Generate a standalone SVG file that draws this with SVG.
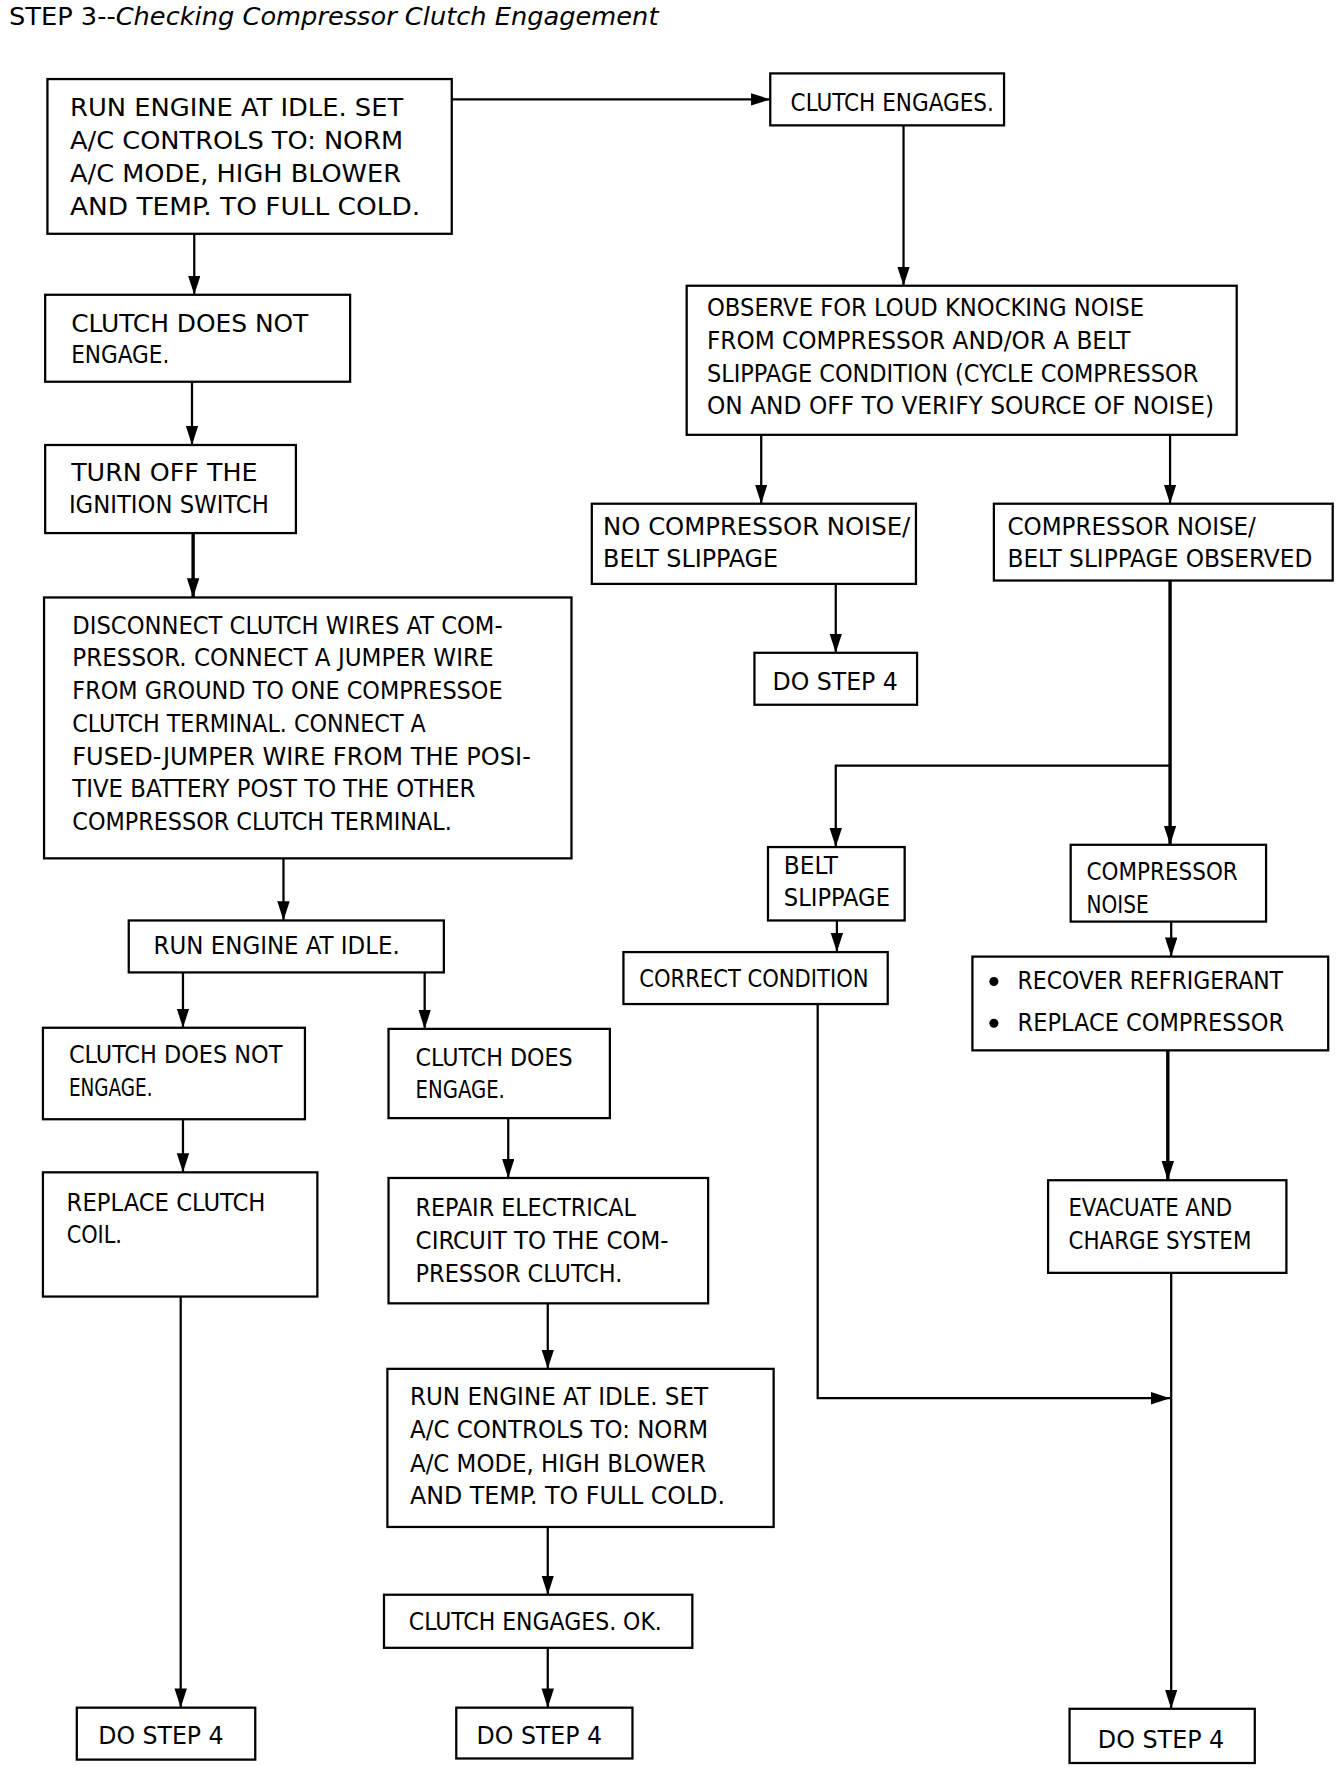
<svg xmlns="http://www.w3.org/2000/svg" width="1344" height="1772" viewBox="0 0 1344 1772">
<style>
.b{fill:#fff;stroke:#000;stroke-width:2}
.t{font-family:"DejaVu Sans Condensed","Liberation Sans",Arial,sans-serif;font-size:22px;fill:#000}
.c{fill:none;stroke:#000;stroke-width:2}
.k{stroke-width:3}
</style>
<defs>
<marker id="ah" markerUnits="userSpaceOnUse" markerWidth="18" markerHeight="12" refX="17" refY="5.5" orient="auto">
<path d="M0,0 L17,5.5 L0,11 z" fill="#000"/>
</marker>
</defs>
<rect width="1344" height="1772" fill="#fff"/>
<g transform="scale(1.12941)">
<text class="t" x="8" y="22" font-size="21" textLength="575" lengthAdjust="spacingAndGlyphs">STEP 3--<tspan font-style="italic">Checking Compressor Clutch Engagement</tspan></text>

<g id="connectors">
<path class="c" d="M400,88 H682" marker-end="url(#ah)"/>
<path class="c" d="M800,111 V253" marker-end="url(#ah)"/>
<path class="c" d="M674,385 V446" marker-end="url(#ah)"/>
<path class="c" d="M1036,385 V446" marker-end="url(#ah)"/>
<path class="c" d="M740,517 V578" marker-end="url(#ah)"/>
<path class="c k" d="M1036,514 V748" marker-end="url(#ah)"/>
<path class="c" d="M1036,678 H740 V750" marker-end="url(#ah)"/>
<path class="c" d="M741,815 V843" marker-end="url(#ah)"/>
<path class="c" d="M724,889 V1238 H1036" marker-end="url(#ah)"/>
<path class="c" d="M1037,816 V847" marker-end="url(#ah)"/>
<path class="c k" d="M1034,930 V1045" marker-end="url(#ah)"/>
<path class="c" d="M1037,1127 V1513" marker-end="url(#ah)"/>
<path class="c" d="M172,207 V261" marker-end="url(#ah)"/>
<path class="c" d="M170,338 V394" marker-end="url(#ah)"/>
<path class="c k" d="M171,472 V529" marker-end="url(#ah)"/>
<path class="c" d="M251,760 V815" marker-end="url(#ah)"/>
<path class="c" d="M162,861 V910" marker-end="url(#ah)"/>
<path class="c" d="M376,861 V911" marker-end="url(#ah)"/>
<path class="c" d="M162,991 V1038" marker-end="url(#ah)"/>
<path class="c" d="M450,990 V1043" marker-end="url(#ah)"/>
<path class="c" d="M160,1148 V1512" marker-end="url(#ah)"/>
<path class="c" d="M485,1154 V1212" marker-end="url(#ah)"/>
<path class="c" d="M485,1352 V1412" marker-end="url(#ah)"/>
<path class="c" d="M485,1459 V1512" marker-end="url(#ah)"/>
</g>

<g id="nodeA"><rect class="b" x="42" y="70" width="358" height="137"/>
<text class="t" x="62" y="103" textLength="295" lengthAdjust="spacingAndGlyphs">RUN ENGINE AT IDLE. SET</text>
<text class="t" x="62" y="132" textLength="295" lengthAdjust="spacingAndGlyphs">A/C CONTROLS TO: NORM</text>
<text class="t" x="62" y="161" textLength="293" lengthAdjust="spacingAndGlyphs">A/C MODE, HIGH BLOWER</text>
<text class="t" x="62" y="190" textLength="310" lengthAdjust="spacingAndGlyphs">AND TEMP. TO FULL COLD.</text></g>

<g id="nodeB"><rect class="b" x="682" y="65" width="207" height="46"/>
<text class="t" x="700" y="98" textLength="180" lengthAdjust="spacingAndGlyphs">CLUTCH ENGAGES.</text></g>

<g id="nodeC"><rect class="b" x="608" y="253" width="487" height="132"/>
<text class="t" x="626" y="280" textLength="387" lengthAdjust="spacingAndGlyphs">OBSERVE FOR LOUD KNOCKING NOISE</text>
<text class="t" x="626" y="309" textLength="375" lengthAdjust="spacingAndGlyphs">FROM COMPRESSOR AND/OR A BELT</text>
<text class="t" x="626" y="338" textLength="435" lengthAdjust="spacingAndGlyphs">SLIPPAGE CONDITION (CYCLE COMPRESSOR</text>
<text class="t" x="626" y="367" textLength="449" lengthAdjust="spacingAndGlyphs">ON AND OFF TO VERIFY SOURCE OF NOISE)</text></g>

<g id="nodeD"><rect class="b" x="524" y="446" width="287" height="71"/>
<text class="t" x="534" y="474" textLength="272" lengthAdjust="spacingAndGlyphs">NO COMPRESSOR NOISE/</text>
<text class="t" x="534" y="502" textLength="155" lengthAdjust="spacingAndGlyphs">BELT SLIPPAGE</text></g>

<g id="nodeF"><rect class="b" x="668" y="578" width="144" height="46"/>
<text class="t" x="684" y="611" textLength="111" lengthAdjust="spacingAndGlyphs">DO STEP 4</text></g>

<g id="nodeE"><rect class="b" x="880" y="446" width="300" height="68"/>
<text class="t" x="892" y="474" textLength="220" lengthAdjust="spacingAndGlyphs">COMPRESSOR NOISE/</text>
<text class="t" x="892" y="502" textLength="270" lengthAdjust="spacingAndGlyphs">BELT SLIPPAGE OBSERVED</text></g>

<g id="nodeG"><rect class="b" x="680" y="750" width="121" height="65"/>
<text class="t" x="694" y="774" textLength="48" lengthAdjust="spacingAndGlyphs">BELT</text>
<text class="t" x="694" y="802" textLength="94" lengthAdjust="spacingAndGlyphs">SLIPPAGE</text></g>

<g id="nodeI"><rect class="b" x="552" y="843" width="234" height="46"/>
<text class="t" x="566" y="874" textLength="203" lengthAdjust="spacingAndGlyphs">CORRECT CONDITION</text></g>

<g id="nodeH"><rect class="b" x="948" y="748" width="173" height="68"/>
<text class="t" x="962" y="779" textLength="134" lengthAdjust="spacingAndGlyphs">COMPRESSOR</text>
<text class="t" x="962" y="808" textLength="55" lengthAdjust="spacingAndGlyphs">NOISE</text></g>

<g id="nodeJ"><rect class="b" x="861" y="847" width="315" height="83"/>
<circle cx="880" cy="869" r="4"/><circle cx="880" cy="906" r="4"/>
<text class="t" x="901" y="876" textLength="235" lengthAdjust="spacingAndGlyphs">RECOVER REFRIGERANT</text>
<text class="t" x="901" y="913" textLength="236" lengthAdjust="spacingAndGlyphs">REPLACE COMPRESSOR</text></g>

<g id="nodeK"><rect class="b" x="928" y="1045" width="211" height="82"/>
<text class="t" x="946" y="1077" textLength="145" lengthAdjust="spacingAndGlyphs">EVACUATE AND</text>
<text class="t" x="946" y="1106" textLength="162" lengthAdjust="spacingAndGlyphs">CHARGE SYSTEM</text></g>

<g id="nodeL"><rect class="b" x="947" y="1513" width="164" height="48"/>
<text class="t" x="972" y="1548" textLength="112" lengthAdjust="spacingAndGlyphs">DO STEP 4</text></g>

<g id="nodeM"><rect class="b" x="40" y="261" width="270" height="77"/>
<text class="t" x="63" y="294" textLength="210" lengthAdjust="spacingAndGlyphs">CLUTCH DOES NOT</text>
<text class="t" x="63" y="321" textLength="87" lengthAdjust="spacingAndGlyphs">ENGAGE.</text></g>

<g id="nodeN"><rect class="b" x="40" y="394" width="222" height="78"/>
<text class="t" x="63" y="426" textLength="165" lengthAdjust="spacingAndGlyphs">TURN OFF THE</text>
<text class="t" x="61" y="454" textLength="177" lengthAdjust="spacingAndGlyphs">IGNITION SWITCH</text></g>

<g id="nodeO"><rect class="b" x="39" y="529" width="467" height="231"/>
<text class="t" x="64" y="561" textLength="381" lengthAdjust="spacingAndGlyphs">DISCONNECT CLUTCH WIRES AT COM-</text>
<text class="t" x="64" y="590" textLength="373" lengthAdjust="spacingAndGlyphs">PRESSOR. CONNECT A JUMPER WIRE</text>
<text class="t" x="64" y="619" textLength="381" lengthAdjust="spacingAndGlyphs">FROM GROUND TO ONE COMPRESSOE</text>
<text class="t" x="64" y="648" textLength="313" lengthAdjust="spacingAndGlyphs">CLUTCH TERMINAL. CONNECT A</text>
<text class="t" x="64" y="677" textLength="406" lengthAdjust="spacingAndGlyphs">FUSED-JUMPER WIRE FROM THE POSI-</text>
<text class="t" x="64" y="706" textLength="357" lengthAdjust="spacingAndGlyphs">TIVE BATTERY POST TO THE OTHER</text>
<text class="t" x="64" y="735" textLength="336" lengthAdjust="spacingAndGlyphs">COMPRESSOR CLUTCH TERMINAL.</text></g>

<g id="nodeP"><rect class="b" x="114" y="815" width="279" height="46"/>
<text class="t" x="136" y="845" textLength="218" lengthAdjust="spacingAndGlyphs">RUN ENGINE AT IDLE.</text></g>

<g id="nodeQ"><rect class="b" x="38" y="910" width="232" height="81"/>
<text class="t" x="61" y="941" textLength="189" lengthAdjust="spacingAndGlyphs">CLUTCH DOES NOT</text>
<text class="t" x="61" y="970" textLength="74" lengthAdjust="spacingAndGlyphs">ENGAGE.</text></g>

<g id="nodeR"><rect class="b" x="344" y="911" width="196" height="79"/>
<text class="t" x="368" y="944" textLength="139" lengthAdjust="spacingAndGlyphs">CLUTCH DOES</text>
<text class="t" x="368" y="972" textLength="79" lengthAdjust="spacingAndGlyphs">ENGAGE.</text></g>

<g id="nodeS"><rect class="b" x="38" y="1038" width="243" height="110"/>
<text class="t" x="59" y="1072" textLength="176" lengthAdjust="spacingAndGlyphs">REPLACE CLUTCH</text>
<text class="t" x="59" y="1101" textLength="49" lengthAdjust="spacingAndGlyphs">COIL.</text></g>

<g id="nodeT"><rect class="b" x="344" y="1043" width="283" height="111"/>
<text class="t" x="368" y="1077" textLength="195" lengthAdjust="spacingAndGlyphs">REPAIR ELECTRICAL</text>
<text class="t" x="368" y="1106" textLength="224" lengthAdjust="spacingAndGlyphs">CIRCUIT TO THE COM-</text>
<text class="t" x="368" y="1135" textLength="183" lengthAdjust="spacingAndGlyphs">PRESSOR CLUTCH.</text></g>

<g id="nodeU"><rect class="b" x="68" y="1512" width="158" height="46"/>
<text class="t" x="87" y="1544" textLength="111" lengthAdjust="spacingAndGlyphs">DO STEP 4</text></g>

<g id="nodeV"><rect class="b" x="343" y="1212" width="342" height="140"/>
<text class="t" x="363" y="1244" textLength="264" lengthAdjust="spacingAndGlyphs">RUN ENGINE AT IDLE. SET</text>
<text class="t" x="363" y="1273" textLength="264" lengthAdjust="spacingAndGlyphs">A/C CONTROLS TO: NORM</text>
<text class="t" x="363" y="1303" textLength="262" lengthAdjust="spacingAndGlyphs">A/C MODE, HIGH BLOWER</text>
<text class="t" x="363" y="1332" textLength="279" lengthAdjust="spacingAndGlyphs">AND TEMP. TO FULL COLD.</text></g>

<g id="nodeW"><rect class="b" x="340" y="1412" width="273" height="47"/>
<text class="t" x="362" y="1443" textLength="224" lengthAdjust="spacingAndGlyphs">CLUTCH ENGAGES. OK.</text></g>

<g id="nodeX"><rect class="b" x="404" y="1512" width="156" height="45"/>
<text class="t" x="422" y="1544" textLength="111" lengthAdjust="spacingAndGlyphs">DO STEP 4</text></g>
</g>
</svg>
